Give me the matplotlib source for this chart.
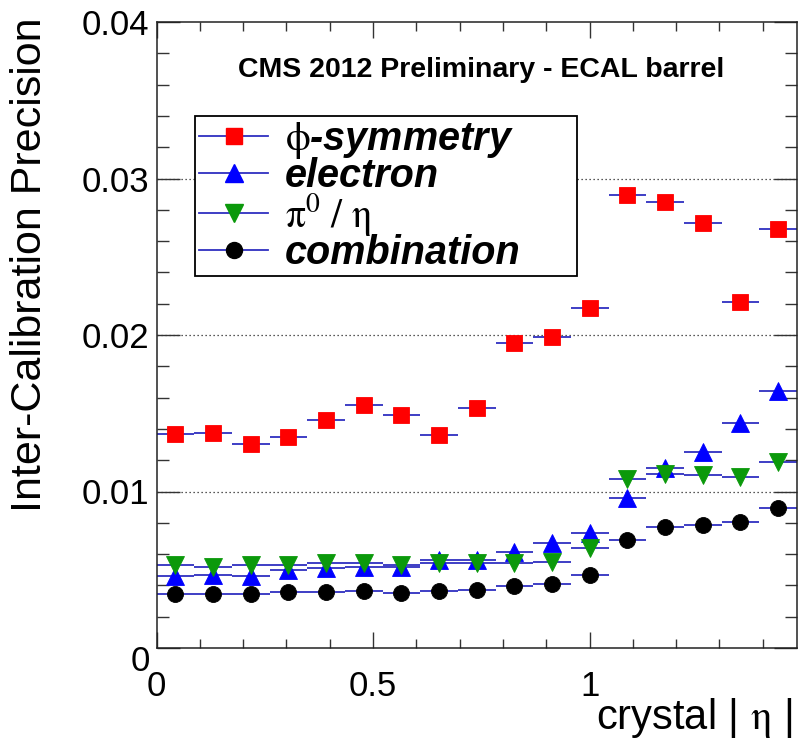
import matplotlib
matplotlib.use("Agg")
import matplotlib.pyplot as plt
from matplotlib.lines import Line2D
from matplotlib.font_manager import FontProperties
from matplotlib.ticker import MultipleLocator, FixedLocator
import matplotlib.transforms as mtransforms
import numpy as np

plt.rcParams['font.family'] = ['Liberation Sans', 'DejaVu Sans']
plt.rcParams['mathtext.fontset'] = 'stix'

# ---- data ----
bin_edges = np.linspace(0.0, 1.479, 18)
eta = 0.5 * (bin_edges[:-1] + bin_edges[1:])
half_width = 0.5 * (bin_edges[1] - bin_edges[0])

phi_symmetry = [0.01369, 0.01373, 0.01305, 0.01348, 0.01455, 0.01550, 0.01491, 0.01363,
                0.01532, 0.01948, 0.01987, 0.02175, 0.02892, 0.02853, 0.02713, 0.02211, 0.02676]
electron = [0.00461, 0.00465, 0.00463, 0.00500, 0.00510, 0.00520, 0.00520, 0.00560,
            0.00563, 0.00616, 0.00670, 0.00735, 0.00960, 0.01150, 0.01251, 0.01439, 0.01639]
pi0_eta = [0.00531, 0.00520, 0.00530, 0.00530, 0.00540, 0.00540, 0.00530, 0.00540,
           0.00540, 0.00540, 0.00550, 0.00637, 0.01080, 0.01110, 0.01107, 0.01090, 0.01187]
combination = [0.00343, 0.00343, 0.00343, 0.00356, 0.00356, 0.00367, 0.00350, 0.00367,
               0.00370, 0.00397, 0.00410, 0.00465, 0.00690, 0.00770, 0.00788, 0.00804, 0.00896]

series = [
    (phi_symmetry, 's', '#ff0000', r"$\mathrm{\phi}$-symmetry", 11.5),
    (electron, '^', '#0000ff', "electron", 12.5),
    (pi0_eta, 'v', '#0b990b', r"$\mathrm{\pi}^{\mathit{0}}\ \mathrm{/}\ \mathrm{\eta}$", 12.5),
    (combination, 'o', '#000000', "combination", 11.5),
]
ecolor = '#2f2fc0'

W, H = 801, 743
fig = plt.figure(figsize=(W / 100, H / 100), dpi=100)
ax = fig.add_axes([156.5 / W, 1 - 648 / H, (797 - 156.5) / W, (648 - 22) / H])

# dotted grid at major y values
for gy in [0.01, 0.02, 0.03]:
    ax.axhline(gy, color='#222222', lw=0.9, ls=(0, (1, 2.2)), zorder=0.5)

for vals, mk, col, lab, ms in series:
    ax.errorbar(eta, vals, xerr=half_width, fmt='none', ecolor=ecolor, elinewidth=1.3,
                capsize=0, zorder=2)
for vals, mk, col, lab, ms in series:
    ax.plot(eta, vals, ls='none', marker=mk, ms=ms, mfc=col, mec=col, mew=0.6, zorder=3)

ax.set_xlim(0, 1.479)
ax.set_ylim(0, 0.04)

ax.xaxis.set_major_locator(FixedLocator([0, 0.5, 1.0]))
ax.xaxis.set_minor_locator(MultipleLocator(0.1))
ax.yaxis.set_major_locator(FixedLocator([0, 0.01, 0.02, 0.03, 0.04]))
ax.yaxis.set_minor_locator(MultipleLocator(0.002))
ax.set_xticklabels(['0', '0.5', '1'])
ax.set_yticklabels(['0', '0.01', '0.02', '0.03', '0.04'])

ax.tick_params(axis='both', which='both', direction='in', top=True, right=True,
               colors='#333333', labelcolor='black', labelsize=25, width=1.0)
ax.tick_params(axis='y', which='major', length=16.5, pad=5)
ax.tick_params(axis='y', which='minor', length=8.6)
ax.tick_params(axis='x', which='major', length=11.5, pad=16)
ax.tick_params(axis='x', which='minor', length=6.2)
for sp in ax.spines.values():
    sp.set_linewidth(1.1)
    sp.set_color('#222222')

# the y-axis "0" sits a little lower in the reference
t0 = ax.yaxis.get_major_ticks()[0]
t0.label1.set_transform(t0.label1.get_transform() +
                        mtransforms.ScaledTranslation(0, -0.1, fig.dpi_scale_trans))

# texts
fig.text(30 / W, 1 - 18 / H, "Inter-Calibration Precision", rotation=90, ha='center',
         va='top', fontsize=31)
fig.text(792 / W, 1 - 718 / H, r"crystal | $\mathrm{\eta}$ |", ha='right', va='center',
         fontsize=30)
fig.text(481 / W, 1 - 77 / H, "CMS 2012 Preliminary - ECAL barrel", ha='center',
         va='baseline', fontsize=20.5, fontweight='bold')

handles = [Line2D([], [], color=ecolor, lw=1.3, marker=mk, ms=ms, mfc=col, mec=col)
           for vals, mk, col, lab, ms in series]
labels = [s[3] for s in series]
prop = FontProperties(family=['Liberation Sans', 'DejaVu Sans'], weight='bold',
                      style='italic', size=28.5)
leg = fig.legend(handles, labels, loc='upper left',
                 bbox_to_anchor=(195 / W, 1 - 272 / H, 382 / W, 156 / H),
                 bbox_transform=fig.transFigure, mode='expand', borderaxespad=0,
                 prop=prop, handlelength=1.75, handletextpad=0.42, borderpad=0.1,
                 labelspacing=-0.1, fancybox=False, framealpha=1, edgecolor='black')
leg.get_frame().set_linewidth(1.3)

fig.savefig("out.png", dpi=100)
